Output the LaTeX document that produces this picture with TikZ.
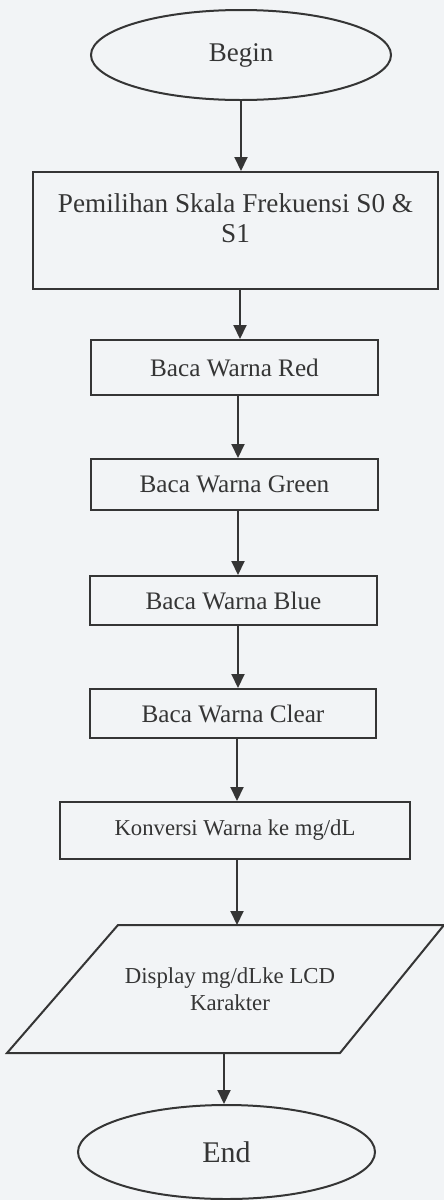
\documentclass[tikz,border=0pt]{standalone}
\usepackage{fontspec}
\setmainfont{Liberation Serif}
\usetikzlibrary{shapes.geometric,arrows.meta}
\definecolor{ink}{HTML}{353535}
\definecolor{paper}{HTML}{F2F4F6}
\tikzset{
  base/.style={draw=ink, line width=1pt, text=ink, inner sep=0pt},
  box/.style={base, rectangle},
  term/.style={base, ellipse},
  flow/.style={draw=ink, line width=1pt, -{Triangle[length=7pt,width=6.5pt]}},
  txt/.style={text=ink, align=center, inner sep=0pt}
}
\begin{document}
\begin{tikzpicture}[x=0.5pt,y=-0.5pt]
  % page area
  \fill[paper] (0,0) rectangle (444,1200);
  \useasboundingbox (0,0) rectangle (444,1200);

  % terminals and process boxes
  \node[term, minimum width=150pt, minimum height=45pt, font=\fontsize{13.5}{16}\selectfont] (begin) at (241,55) {Begin};
  \node[box, minimum width=202.5pt, minimum height=58.5pt] (skala) at (235.5,230.5) {};
  \node[txt, font=\fontsize{13.6}{15}\selectfont] (skalatxt) at (235.5,218) {Pemilihan Skala Frekuensi S0 \&\\S1};
  \node[box, minimum width=143.5pt, minimum height=27.5pt, font=\fontsize{12.6}{15}\selectfont] (red) at (234.5,367.5) {Baca Warna Red};
  \node[box, minimum width=143.5pt, minimum height=25.5pt, font=\fontsize{12.6}{15}\selectfont] (green) at (234.5,484.5) {Baca Warna Green};
  \node[box, minimum width=143.5pt, minimum height=24.5pt, font=\fontsize{12.6}{15}\selectfont] (blue) at (233.5,600.5) {Baca Warna Blue};
  \node[box, minimum width=143pt, minimum height=24.5pt, font=\fontsize{12.6}{15}\selectfont] (clear) at (233,713.5) {Baca Warna Clear};
  \node[box, minimum width=175pt, minimum height=28.5pt, font=\fontsize{11.35}{14}\selectfont] (konv) at (235,830.5) {Konversi Warna ke mg/dL};

  % input/output parallelogram
  \coordinate (dtl) at (118,925);
  \coordinate (dtr) at (444,925);
  \coordinate (dbr) at (340,1053);
  \coordinate (dbl) at (7,1053);
  \draw[draw=ink, line width=1pt, line join=miter] (dtl) -- (dtr) -- (dbr) -- (dbl) -- cycle;
  \node[txt, font=\fontsize{11.4}{13.5}\selectfont] (disp) at (230,989.5) {Display mg/dLke LCD\\Karakter};
  \coordinate (dtop) at (237,925);
  \coordinate (dbot) at (224,1053);

  \node[term, minimum width=148.5pt, minimum height=47pt, font=\fontsize{15}{18}\selectfont] (end) at (226.5,1152) {End};

  % connectors
  \draw[flow] (begin.south) -- (begin.south |- skala.north);
  \draw[flow] (skala.south -| 240,0) -- (red.north -| 240,0);
  \draw[flow] (red.south -| 238,0) -- (green.north -| 238,0);
  \draw[flow] (green.south -| 238,0) -- (blue.north -| 238,0);
  \draw[flow] (blue.south -| 238,0) -- (clear.north -| 238,0);
  \draw[flow] (clear.south -| 237,0) -- (konv.north -| 237,0);
  \draw[flow] (konv.south -| dtop) -- (dtop);
  \draw[flow] (dbot) -- (dbot |- end.north);
\end{tikzpicture}
\end{document}
